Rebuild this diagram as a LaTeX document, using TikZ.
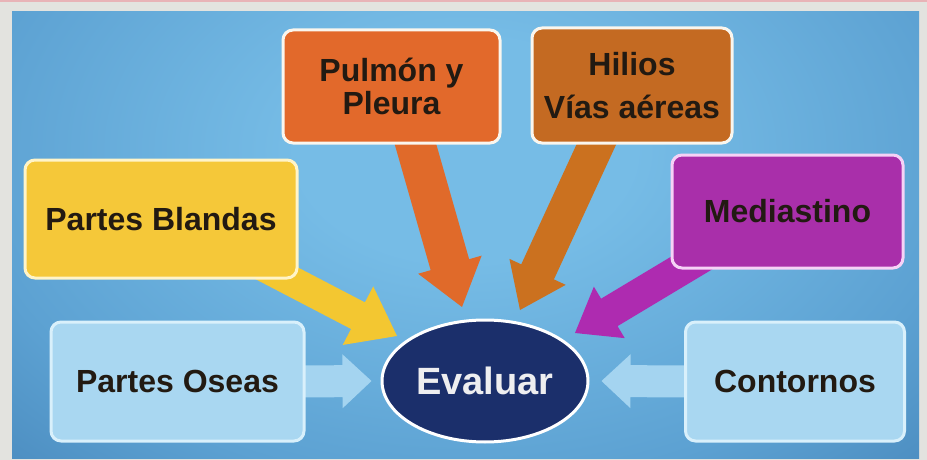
\documentclass[tikz,border=0pt]{standalone}
\usepackage{fontspec}
\setmainfont{Liberation Sans}
\usetikzlibrary{calc,shapes.geometric}
\definecolor{framegray}{HTML}{E3E3DF}
\definecolor{pinkline}{HTML}{E8B3B7}
\definecolor{bglight}{HTML}{76BCE6}
\definecolor{bgmid}{HTML}{5CA1D2}
\definecolor{bgdark}{HTML}{4787BB}
\definecolor{cyellow}{HTML}{F5C839}
\definecolor{byellow}{HTML}{FFF4C8}
\definecolor{corange}{HTML}{E2692B}
\definecolor{cbrown}{HTML}{C46A22}
\definecolor{cpurple}{HTML}{A92FAA}
\definecolor{bpurple}{HTML}{F6D2F6}
\definecolor{cltblue}{HTML}{A9D7F1}
\definecolor{bltblue}{HTML}{D9F0FB}
\definecolor{bwhite}{HTML}{FAF6EE}
\definecolor{navy}{HTML}{1B2F6B}
\definecolor{txt}{HTML}{221A12}
\definecolor{evtext}{HTML}{EEEEF0}
\definecolor{ayellow}{HTML}{F3C731}
\definecolor{aorange}{HTML}{E06A2A}
\definecolor{abrown}{HTML}{CB711F}
\definecolor{apurple}{HTML}{AE2BB0}
\definecolor{altblue}{HTML}{A4D4F0}
\pgfdeclarelayer{bg}
\pgfdeclarelayer{arr}
\pgfsetlayers{bg,arr,main}
\pgfdeclareradialshading{bgshade}{\pgfpoint{0bp}{0bp}}{color(0bp)=(bglight); color(8bp)=(bglight); color(24bp)=(bgmid); color(34bp)=(bgdark); color(50bp)=(bgdark)}
% tail, tip, shaft half width, head half width, head length, colour
\newcommand{\fatarrow}[6]{%
  \path ($(#2)!#5!(#1)$) coordinate (fab);
  \fill[#6] ($(#1)!#3!90:(#2)$) -- ($(fab)!#3!90:(#2)$) -- ($(fab)!#4!90:(#2)$) -- (#2)
    -- ($(fab)!#4!-90:(#2)$) -- ($(fab)!#3!-90:(#2)$) -- ($(#1)!#3!-90:(#2)$) -- cycle;}
\begin{document}
\begin{tikzpicture}[x=1pt,y=-1pt,
  box/.style={rectangle, rounded corners=10pt, line width=3pt, inner sep=0pt, outer sep=0pt,
    align=center, font=\fontsize{32}{35}\selectfont\bfseries, text=txt}]
\useasboundingbox (0,0) rectangle (927,460);
\begin{pgfonlayer}{bg}
  \fill[framegray] (0,0) rectangle (927,460);
  \fill[pinkline] (0,0) rectangle (927,2.5);
  \begin{scope}
    \clip (12,12) rectangle (919,458);
    \shade[shading=bgshade] (-60,-200) rectangle (990,500);
  \end{scope}
\end{pgfonlayer}

\node[box, fill=corange, draw=bwhite, minimum width=217pt, minimum height=113pt] (pp) at (391.5,86.5) {Pulmón y\\[-2pt]Pleura};
\node[box, fill=cbrown, draw=bwhite, minimum width=200pt, minimum height=115pt] (hv) at (632,85.5) {Hilios\\[8pt]Vías aéreas};
\node[box, fill=cyellow, draw=byellow, minimum width=272pt, minimum height=118pt] (pb) at (161,219) {Partes Blandas};
\node[box, fill=cpurple, draw=bpurple, minimum width=231pt, minimum height=113pt] (md) at (787.5,211.5) {Mediastino};
\node[box, fill=cltblue, draw=bltblue, minimum width=253pt, minimum height=119pt] (po) at (177.5,381.5) {Partes Oseas};
\node[box, fill=cltblue, draw=bltblue, minimum width=219pt, minimum height=119pt] (ct) at (795,381.5) {Contornos};
\node[ellipse, fill=navy, draw=white, line width=3pt, minimum width=206pt, minimum height=122pt, inner sep=0pt,
  font=\fontsize{38}{40}\selectfont\bfseries, text=evtext] (ev) at (485,381) {Evaluar};

\begin{pgfonlayer}{arr}
  \coordinate (yt) at ($(pb.south east)+(-42,-16)$);
  \coordinate (yh) at ($(ev.center)+(-88,-45)$);
  \fatarrow{yt}{yh}{15pt}{33pt}{44pt}{ayellow}
  \coordinate (ot) at ($(pp.south)+(18.5,-18)$);
  \coordinate (oh) at ($(ev.center)+(-23,-74)$);
  \fatarrow{ot}{oh}{20pt}{33pt}{44pt}{aorange}
  \coordinate (bt) at ($(hv.south)+(-29,-13)$);
  \coordinate (bh) at ($(ev.center)+(35,-71)$);
  \fatarrow{bt}{bh}{18pt}{31pt}{42pt}{abrown}
  \coordinate (mt) at ($(md.south west)+(33,-13)$);
  \coordinate (mh) at ($(ev.center)+(90,-48)$);
  \fatarrow{mt}{mh}{16pt}{30pt}{40pt}{apurple}
  \coordinate (lt) at ($(po.east)+(-8,0)$);
  \coordinate (lh) at ($(ev.west)+(-9,0)$);
  \fatarrow{lt}{lh}{16pt}{27pt}{29pt}{altblue}
  \coordinate (rt) at ($(ct.west)+(8,0)$);
  \coordinate (rh) at ($(ev.east)+(12,0)$);
  \fatarrow{rt}{rh}{16pt}{27pt}{29pt}{altblue}
\end{pgfonlayer}
\end{tikzpicture}
\end{document}
